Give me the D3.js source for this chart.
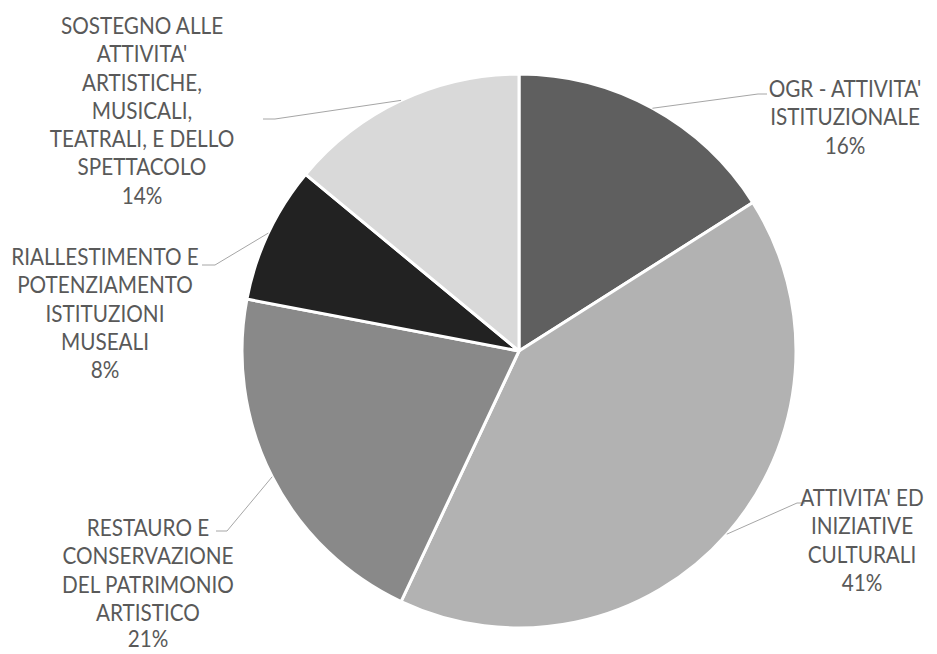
<!DOCTYPE html>
<html lang="it">
<head>
  <meta charset="UTF-8">
  <title>Ripartizione interventi</title>
  <script src="https://d3js.org/d3.v7.min.js"></script>
  <style>
    html, body { margin: 0; padding: 0; background: #fff; }
    svg { display: block; }
  </style>
</head>
<body>
  <div id="chart"></div>

  <script>
    // categories (clockwise from 12 o'clock) and percentages
    const categories = [
      "OGR - ATTIVITA' ISTITUZIONALE",
      "ATTIVITA' ED INIZIATIVE CULTURALI",
      "RESTAURO E CONSERVAZIONE DEL PATRIMONIO ARTISTICO",
      "RIALLESTIMENTO E POTENZIAMENTO ISTITUZIONI MUSEALI",
      "SOSTEGNO ALLE ATTIVITA' ARTISTICHE, MUSICALI, TEATRALI, E DELLO SPETTACOLO"
    ];
    const values = [16, 41, 21, 8, 14];

    // how each label wraps, as in the original
    const labelLines = [
      ["OGR - ATTIVITA'", "ISTITUZIONALE"],
      ["ATTIVITA' ED", "INIZIATIVE", "CULTURALI"],
      ["RESTAURO E", "CONSERVAZIONE", "DEL PATRIMONIO", "ARTISTICO"],
      ["RIALLESTIMENTO E", "POTENZIAMENTO", "ISTITUZIONI", "MUSEALI"],
      ["SOSTEGNO ALLE", "ATTIVITA'", "ARTISTICHE,", "MUSICALI,", "TEATRALI, E DELLO", "SPETTACOLO"]
    ];

    const colors = ['#5f5f5f', '#b2b2b2', '#898989', '#222222', '#d9d9d9'];

    // label block: centre x, first baseline y, elbow of the leader, end of leader
    const labelLayout = [
      { x: 845, y: 97,  ex: 758, ey: 94,  hx: 767 },
      { x: 862, y: 506, ex: 797, ey: 503, hx: 805 },
      { x: 148, y: 536, ex: 227, ey: 531, hx: 216 },
      { x: 105, y: 265, ex: 215, ey: 265, hx: 202 },
      { x: 142, y: 34,  ex: 275, ey: 119, hx: 263 }
    ];

    const width = 937, height = 654;
    const cx = 519, cy = 351, radius = 277;
    const lineH = 28.3;

    const svg = d3.select('#chart')
      .append('svg')
      .attr('width', width)
      .attr('height', height);

    const data = values.map((v, i) => ({ name: categories[i], value: v, i: i }));

    const pie = d3.pie()
      .value(d => d.value)
      .sort(null);

    const arc = d3.arc()
      .innerRadius(0)
      .outerRadius(radius);

    const edgeArc = d3.arc()
      .innerRadius(radius)
      .outerRadius(radius);

    const arcs = pie(data);

    const g = svg.append('g')
      .attr('transform', `translate(${cx},${cy})`);

    g.selectAll('path.slice')
      .data(arcs)
      .enter()
      .append('path')
      .attr('class', 'slice')
      .attr('d', arc)
      .attr('fill', d => colors[d.data.i])
      .attr('stroke', '#fff')
      .attr('stroke-width', 3)
      .attr('stroke-linejoin', 'round');

    // leader lines
    arcs.forEach(d => {
      const lay = labelLayout[d.data.i];
      const p = edgeArc.centroid(d);
      svg.append('polyline')
        .attr('points', [
          [cx + p[0], cy + p[1]],
          [lay.ex, lay.ey],
          [lay.hx, lay.ey]
        ].map(q => q.join(',')).join(' '))
        .attr('fill', 'none')
        .attr('stroke', '#a6a6a6')
        .attr('stroke-width', 1);
    });

    // labels (narrowed a little to mimic the condensed original font)
    arcs.forEach(d => {
      const lay = labelLayout[d.data.i];
      const lines = labelLines[d.data.i].concat([d.data.value + '%']);
      const t = svg.append('text')
        .attr('transform', `translate(${lay.x},0) scale(0.9,1)`)
        .attr('text-anchor', 'middle')
        .attr('fill', '#595959')
        .attr('font-family', 'Lato, "Noto Sans", sans-serif')
        .attr('font-size', '23px');
      lines.forEach((ln, k) => {
        // last line of the bottom-left label sits tight on the edge
        const dy = (lay.y + k * lineH > 640) ? -2 : 0;
        t.append('tspan')
          .attr('x', 0)
          .attr('y', lay.y + k * lineH + dy)
          .text(ln);
      });
    });
  </script>
</body>
</html>
